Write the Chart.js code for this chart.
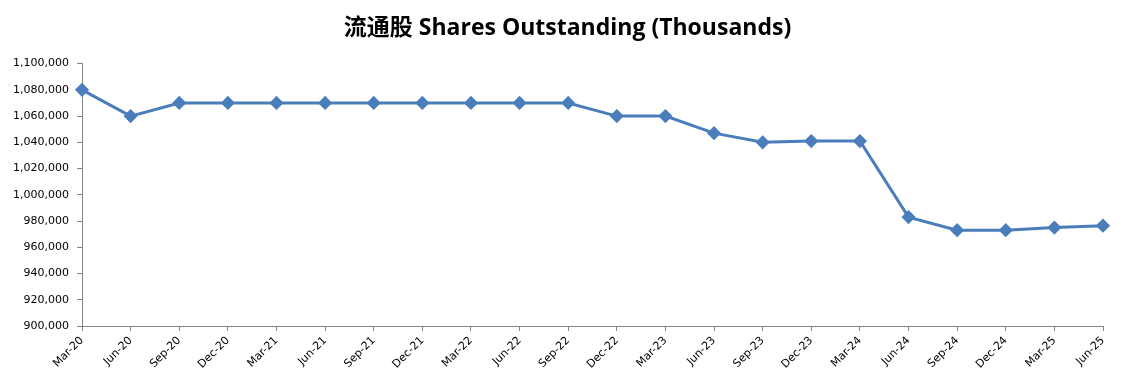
<!DOCTYPE html>
<html>
<head>
<meta charset="utf-8">
<script src="https://cdn.jsdelivr.net/npm/chart.js@4/dist/chart.umd.min.js"></script>
<style>
  html, body { margin: 0; padding: 0; background: #fff; }
  #wrap { width: 1135px; height: 385px; }
</style>
</head>
<body>
<div id="wrap"><canvas id="lineChart"></canvas></div>
<script>
// quarter-end labels
var quarters = ['Mar-20', 'Jun-20', 'Sep-20', 'Dec-20', 'Mar-21', 'Jun-21', 'Sep-21', 'Dec-21',
    'Mar-22', 'Jun-22', 'Sep-22', 'Dec-22', 'Mar-23', 'Jun-23', 'Sep-23', 'Dec-23',
    'Mar-24', 'Jun-24', 'Sep-24', 'Dec-24', 'Mar-25', 'Jun-25'];
// shares outstanding, thousands
var shares = [1080000, 1060000, 1070000, 1070000, 1070000, 1070000, 1070000, 1070000,
    1070000, 1070000, 1070000, 1060000, 1060000, 1047000, 1040000, 1041000,
    1041000, 983000, 973000, 973000, 975000, 976500];
var yMin = 900000, yMax = 1100000, yStep = 20000;
var chartTitle = '流通股 Shares Outstanding (Thousands)';

var axisGrey = '#868686';
var tickFont = { family: "'DejaVu Sans', Verdana, sans-serif", size: 11 };

var ctxL = document.getElementById('lineChart').getContext('2d');
var myLineChart = new Chart(ctxL, {
    type: 'line',
    data: {
        labels: quarters,
        datasets: [{
            label: 'Shares Outstanding',
            data: shares,
            borderColor: '#4a7ebb',
            backgroundColor: '#4a7ebb',
            borderWidth: 3,
            pointStyle: 'rectRot',
            pointRadius: 5,
            pointHoverRadius: 5,
            tension: 0
        }]
    },
    options: {
        responsive: true,
        maintainAspectRatio: false,
        animation: false,
        layout: { padding: 0 },
        plugins: {
            legend: { display: false },
            tooltip: { enabled: false },
            title: {
                display: true,
                text: chartTitle,
                color: '#000',
                font: { family: "'Open Sans', 'Noto Sans CJK SC', sans-serif", size: 23, weight: 'bold' },
                padding: { top: 15, bottom: 21 }
            }
        },
        scales: {
            x: {
                type: 'category',
                offset: false,
                grid: { display: true, drawOnChartArea: false, drawTicks: true, tickLength: 5, color: axisGrey },
                border: { display: true, color: axisGrey, width: 1 },
                ticks: { color: '#000', font: tickFont, minRotation: 45, maxRotation: 45, autoSkip: false, padding: 3 },
                afterFit: function (scale) { scale.height = 59; }
            },
            y: {
                min: yMin,
                max: yMax,
                grid: { display: true, drawOnChartArea: false, drawTicks: true, tickLength: 5, color: axisGrey },
                border: { display: true, color: axisGrey, width: 1 },
                ticks: {
                    stepSize: yStep,
                    color: '#000',
                    font: tickFont,
                    padding: 8,
                    callback: function (v) { return v.toLocaleString('en-US'); }
                },
                afterFit: function (scale) { scale.width = 82; }
            },
            // empty right-hand gutter so the title stays centred on the page
            gutter: {
                type: 'linear',
                position: 'right',
                grid: { display: false },
                border: { display: false },
                ticks: { display: false },
                afterFit: function (scale) { scale.width = 32; }
            }
        }
    }
});
</script>
</body>
</html>
